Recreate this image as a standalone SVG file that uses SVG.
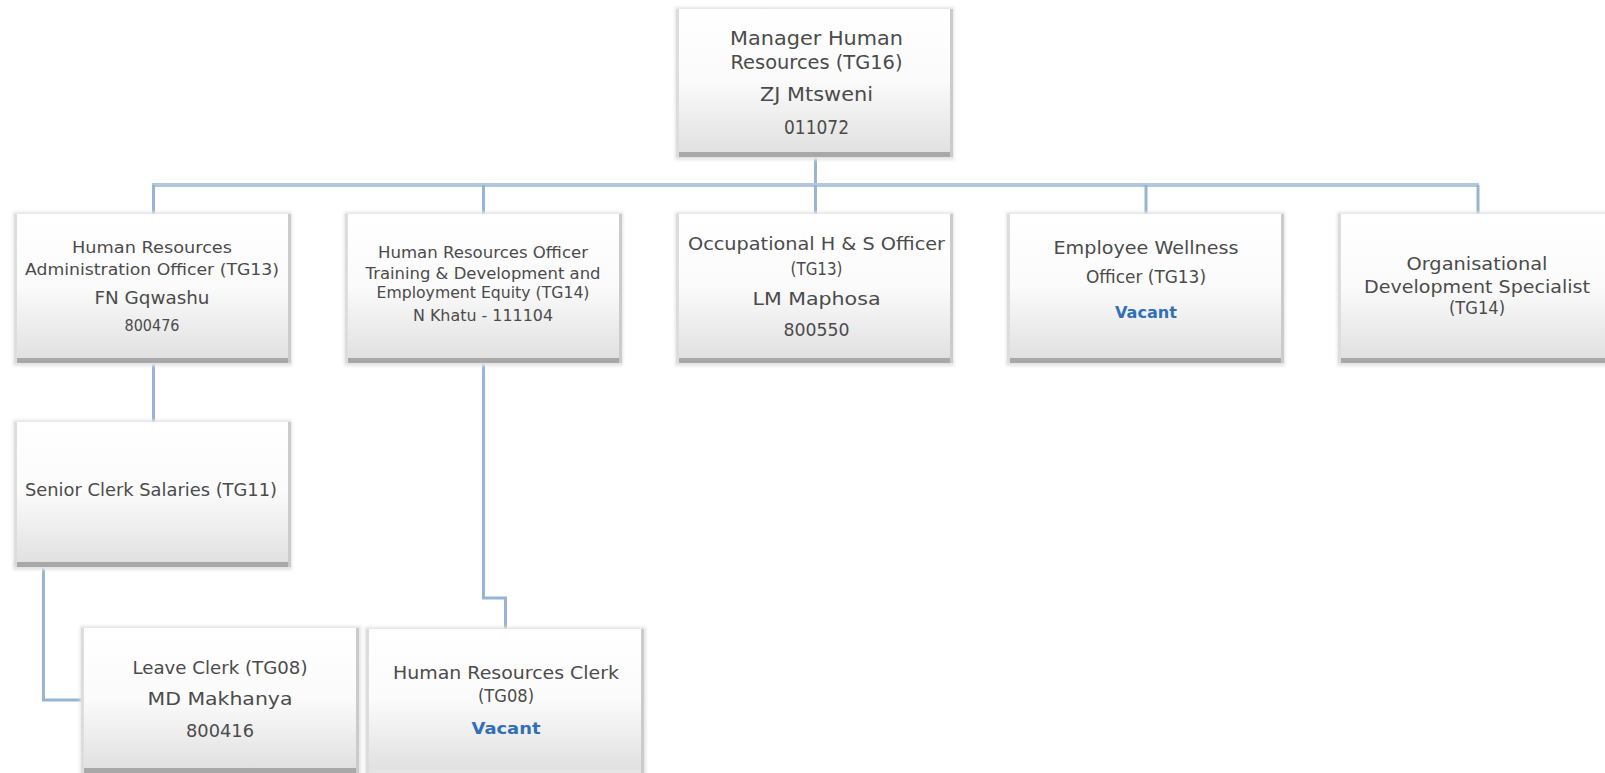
<svg xmlns="http://www.w3.org/2000/svg" width="1605" height="773" viewBox="0 0 1605 773">
  <defs>
    <!-- white top fading to light grey at the bottom of each card -->
    <linearGradient id="cardFill" x1="0" y1="0" x2="0" y2="1">
      <stop offset="0" stop-color="#ffffff"/>
      <stop offset="0.5" stop-color="#fbfbfb"/>
      <stop offset="1" stop-color="#e1e1e1"/>
    </linearGradient>
    <filter id="soft" x="-5%" y="-5%" width="110%" height="115%">
      <feGaussianBlur stdDeviation="1.6"/>
    </filter>
  </defs>
  <style>
    .halo{fill:#e4e4e4;filter:url(#soft)}
    .body{fill:url(#cardFill)}
    .edgeL{fill:#dddddd}
    .edgeR{fill:#cbcbcb}
    .base{fill:#a8a8a8}
    .t{font-family:"DejaVu Sans","Liberation Sans",sans-serif;fill:#4b4b4b;text-anchor:middle}
    .vac{font-weight:bold;fill:#3170b6}
    .wire{fill:none;stroke:#97b5d2;stroke-width:3}
    .bus{fill:none;stroke:#b2c7dd;stroke-width:4}
  </style>

  <rect width="1605" height="773" fill="#ffffff"/>

  <!-- reporting lines -->
  <g id="connectors">
    <path class="wire" d="M815.5 157 V185"/>
    <path class="bus" d="M152 185 H1479"/>
    <path class="wire" d="M153.5 185 V214"/>
    <path class="wire" d="M483.5 185 V214"/>
    <path class="wire" d="M815.5 185 V214"/>
    <path class="wire" d="M1146 185 V214"/>
    <path class="wire" d="M1478 185 V214"/>
    <path class="wire" d="M153.5 363 V422"/>
    <path class="wire" d="M43.5 567 V700 H84"/>
    <path class="wire" d="M483.5 363 V598 H505.5 V629"/>
  </g>

  <!-- Manager -->
  <g id="manager-hr">
    <rect class="halo" x="675" y="7" width="279" height="153"/>
    <rect class="body" x="679" y="9" width="271" height="143"/>
    <rect class="edgeL" x="676" y="9" width="3" height="148"/>
    <rect class="edgeR" x="950" y="9" width="3" height="148"/>
    <rect class="base" x="679" y="152" width="271" height="5"/>
    <text class="t" x="816.5" y="45" font-size="19" textLength="173" lengthAdjust="spacingAndGlyphs">Manager Human</text>
    <text class="t" x="816.5" y="69" font-size="19" textLength="172" lengthAdjust="spacingAndGlyphs">Resources (TG16)</text>
    <text class="t" x="816.5" y="101" font-size="19" textLength="113" lengthAdjust="spacingAndGlyphs">ZJ Mtsweni</text>
    <text class="t" x="816.5" y="134" font-size="19" textLength="65" lengthAdjust="spacingAndGlyphs">011072</text>
  </g>

  <!-- HR Administration Officer -->
  <g id="hr-admin-officer">
    <rect class="halo" x="13" y="212" width="279" height="154"/>
    <rect class="body" x="17" y="214" width="271" height="144"/>
    <rect class="edgeL" x="14" y="214" width="3" height="149"/>
    <rect class="edgeR" x="288" y="214" width="3" height="149"/>
    <rect class="base" x="17" y="358" width="271" height="5"/>
    <text class="t" x="152" y="253" font-size="16" textLength="160" lengthAdjust="spacingAndGlyphs">Human Resources</text>
    <text class="t" x="152" y="275" font-size="16" textLength="254" lengthAdjust="spacingAndGlyphs">Administration Officer (TG13)</text>
    <text class="t" x="152" y="304" font-size="17" textLength="115" lengthAdjust="spacingAndGlyphs">FN Gqwashu</text>
    <text class="t" x="152" y="331" font-size="16" textLength="55" lengthAdjust="spacingAndGlyphs">800476</text>
  </g>

  <!-- HR Officer Training & Development -->
  <g id="hr-officer-td">
    <rect class="halo" x="344" y="212" width="279" height="154"/>
    <rect class="body" x="348" y="214" width="271" height="144"/>
    <rect class="edgeL" x="345" y="214" width="3" height="149"/>
    <rect class="edgeR" x="619" y="214" width="3" height="149"/>
    <rect class="base" x="348" y="358" width="271" height="5"/>
    <text class="t" x="483" y="258" font-size="15" textLength="210" lengthAdjust="spacingAndGlyphs">Human Resources Officer</text>
    <text class="t" x="483" y="279" font-size="15" textLength="235" lengthAdjust="spacingAndGlyphs">Training &amp; Development and</text>
    <text class="t" x="483" y="298" font-size="15" textLength="213" lengthAdjust="spacingAndGlyphs">Employment Equity (TG14)</text>
    <text class="t" x="483" y="321" font-size="15" textLength="140" lengthAdjust="spacingAndGlyphs">N Khatu - 111104</text>
  </g>

  <!-- Occupational H & S Officer -->
  <g id="ohs-officer">
    <rect class="halo" x="675" y="212" width="279" height="154"/>
    <rect class="body" x="679" y="214" width="271" height="144"/>
    <rect class="edgeL" x="676" y="214" width="3" height="149"/>
    <rect class="edgeR" x="950" y="214" width="3" height="149"/>
    <rect class="base" x="679" y="358" width="271" height="5"/>
    <text class="t" x="816.5" y="250" font-size="18" textLength="257" lengthAdjust="spacingAndGlyphs">Occupational H &amp; S Officer</text>
    <text class="t" x="816.5" y="275" font-size="18" textLength="52" lengthAdjust="spacingAndGlyphs">(TG13)</text>
    <text class="t" x="816.5" y="305" font-size="18.5" textLength="128" lengthAdjust="spacingAndGlyphs">LM Maphosa</text>
    <text class="t" x="816.5" y="336" font-size="18.5" textLength="66" lengthAdjust="spacingAndGlyphs">800550</text>
  </g>

  <!-- Employee Wellness Officer -->
  <g id="wellness-officer">
    <rect class="halo" x="1006" y="212" width="279" height="154"/>
    <rect class="body" x="1010" y="214" width="271" height="144"/>
    <rect class="edgeL" x="1007" y="214" width="3" height="149"/>
    <rect class="edgeR" x="1281" y="214" width="3" height="149"/>
    <rect class="base" x="1010" y="358" width="271" height="5"/>
    <text class="t" x="1146" y="254" font-size="17.5" textLength="185" lengthAdjust="spacingAndGlyphs">Employee Wellness</text>
    <text class="t" x="1146" y="283" font-size="17.5" textLength="120" lengthAdjust="spacingAndGlyphs">Officer (TG13)</text>
    <text class="t vac" x="1146" y="318" font-size="16" textLength="62" lengthAdjust="spacingAndGlyphs">Vacant</text>
  </g>

  <!-- Organisational Development Specialist -->
  <g id="od-specialist">
    <rect class="halo" x="1337" y="212" width="279" height="154"/>
    <rect class="body" x="1341" y="214" width="271" height="144"/>
    <rect class="edgeL" x="1338" y="214" width="3" height="149"/>
    <rect class="base" x="1341" y="358" width="271" height="5"/>
    <text class="t" x="1477" y="270" font-size="17" textLength="141" lengthAdjust="spacingAndGlyphs">Organisational</text>
    <text class="t" x="1477" y="293" font-size="17" textLength="226" lengthAdjust="spacingAndGlyphs">Development Specialist</text>
    <text class="t" x="1477" y="314" font-size="17" textLength="56" lengthAdjust="spacingAndGlyphs">(TG14)</text>
  </g>

  <!-- Senior Clerk Salaries -->
  <g id="senior-clerk-salaries">
    <rect class="halo" x="13" y="420" width="279" height="150"/>
    <rect class="body" x="17" y="422" width="271" height="140"/>
    <rect class="edgeL" x="14" y="422" width="3" height="145"/>
    <rect class="edgeR" x="288" y="422" width="3" height="145"/>
    <rect class="base" x="17" y="562" width="271" height="5"/>
    <text class="t" x="151" y="496" font-size="17" textLength="252" lengthAdjust="spacingAndGlyphs">Senior Clerk Salaries (TG11)</text>
  </g>

  <!-- Leave Clerk -->
  <g id="leave-clerk">
    <rect class="halo" x="80" y="626" width="281" height="150"/>
    <rect class="body" x="84" y="628" width="272" height="140"/>
    <rect class="edgeL" x="81" y="628" width="3" height="145"/>
    <rect class="edgeR" x="356" y="628" width="3" height="145"/>
    <rect class="base" x="84" y="768" width="272" height="5"/>
    <text class="t" x="220" y="674" font-size="18" textLength="175" lengthAdjust="spacingAndGlyphs">Leave Clerk (TG08)</text>
    <text class="t" x="220" y="705" font-size="18" textLength="145" lengthAdjust="spacingAndGlyphs">MD Makhanya</text>
    <text class="t" x="220" y="737" font-size="18" textLength="68" lengthAdjust="spacingAndGlyphs">800416</text>
  </g>

  <!-- Human Resources Clerk -->
  <g id="hr-clerk">
    <rect class="halo" x="365" y="627" width="281" height="150"/>
    <rect class="body" x="369" y="629" width="272" height="140"/>
    <rect class="edgeL" x="366" y="629" width="3" height="145"/>
    <rect class="edgeR" x="641" y="629" width="3" height="145"/>
    <text class="t" x="506" y="679" font-size="17.5" textLength="226" lengthAdjust="spacingAndGlyphs">Human Resources Clerk</text>
    <text class="t" x="506" y="702" font-size="17.5" textLength="56" lengthAdjust="spacingAndGlyphs">(TG08)</text>
    <text class="t vac" x="506" y="734" font-size="16" textLength="69" lengthAdjust="spacingAndGlyphs">Vacant</text>
  </g>
</svg>
